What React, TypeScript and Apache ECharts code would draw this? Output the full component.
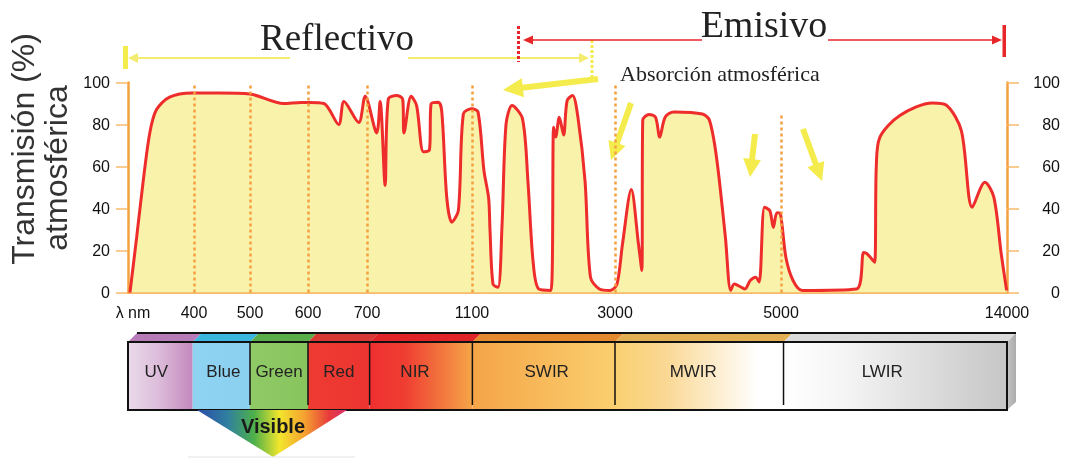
import React, { useEffect, useRef } from 'react';
import * as echarts from 'echarts';

// Non-linear wavelength axis: tick wavelengths and their relative positions on the axis
const TICK_NM = [300, 400, 500, 600, 700, 1100, 3000, 5000, 14000];
const TICK_POS = [0, 66, 122, 180, 239, 344, 487, 653, 879];
const TICK_LABELS = ['λ nm', '400', '500', '600', '700', '1100', '3000', '5000', '14000'];
const AXIS_MAX = 879;

// Dotted reference lines
const DOTTED_NM = [400, 500, 600, 700, 1100, 3000, 5000];
const DOTTED_TOP = [100, 100, 100, 100, 100, 100, 85];

// Atmospheric transmission curve
const WAVELENGTH_NM = [
  303, 313, 323, 333, 343, 363, 397, 445, 500, 558, 588, 602, 627, 652, 661, 686, 697,
  737, 750, 769, 781, 813, 836, 841, 868, 889, 915, 938, 944, 972, 985, 1004, 1023, 1048,
  1067, 1099, 1180, 1259, 1321, 1339, 1379, 1446, 1499, 1552, 1632, 1771, 1843, 1911, 1985,
  2150, 2184, 2212, 2260, 2317, 2364, 2436, 2507, 2602, 2674, 2792, 2934, 3024, 3090, 3196,
  3283, 3323, 3334, 3411, 3488, 3539, 3604, 3710, 4053, 4138, 4223, 4330, 4394, 4438, 4521,
  4566, 4629, 4694, 4737, 4801, 4865, 4908, 4951, 4993, 5194, 5480, 5844, 8003, 8293, 8431,
  8725, 8794, 8939, 9734, 11030, 11607, 12184, 12616, 13120, 13476, 13770, 13984,
];
const TRANSMISSION = [
  0, 26, 53, 76, 87, 93, 95, 95, 94.5, 90, 90.5, 90.5, 90, 80, 91, 81, 93.5,
  76, 91, 51, 92, 93.8, 92, 76, 93.4, 89, 67, 68, 89.8, 90.6, 86, 45, 33.5, 39,
  85, 87.5, 86, 58, 45, 30, 4, 2.5, 32, 80, 89, 82.7, 53, 15, 1.7,
  1, 78.7, 74, 83.5, 75, 91.4, 93.8, 83.5, 53, 7.3, 1.7, 1, 4, 23, 49,
  23, 10.5, 82, 84.8, 83.5, 74, 83.5, 86, 85, 82, 64.4, 26.3, 1, 4, 2.5,
  1.7, 5.7, 7.3, 5, 40.6, 39, 31, 38, 37.5, 16.8, 5.7, 1, 1.7, 19, 18.4,
  14.4, 59.7, 74, 84.3, 90.2, 89, 77, 40.6, 52.5, 45.4, 18.4, 1,
];

// Spectral bands
const BAND_LABELS = ['UV', 'Blue', 'Green', 'Red', 'NIR', 'SWIR', 'MWIR', 'LWIR'];
const BAND_EDGES_NM = [300, 398, 500, 600, 710, 1105, 3000, 5100, 14000];

function nmToPos(nm: number): number {
  for (let i = 0; i < TICK_NM.length - 1; i++) {
    if (nm <= TICK_NM[i + 1] || i === TICK_NM.length - 2) {
      const t = (nm - TICK_NM[i]) / (TICK_NM[i + 1] - TICK_NM[i]);
      return TICK_POS[i] + t * (TICK_POS[i + 1] - TICK_POS[i]);
    }
  }
  return 0;
}

const SANS = '"Liberation Sans", Arial, sans-serif';
const SERIF = '"Liberation Serif", "Times New Roman", serif';
const YELLOW = '#F4EC4C';
const RED = '#E8262A';
const AXIS_COLOR = '#F5A040';

function lg(stops: [number, string][]) {
  return new echarts.graphic.LinearGradient(0, 0, 1, 0, stops.map(([offset, color]) => ({ offset, color })));
}

function arrowEls(x1: number, y1: number, x2: number, y2: number, color: string, w: number, hl: number, hw: number) {
  const dx = x2 - x1, dy = y2 - y1;
  const L = Math.hypot(dx, dy);
  const ux = dx / L, uy = dy / L;
  const bx = x2 - ux * hl, by = y2 - uy * hl;
  return [
    { type: 'line', shape: { x1, y1, x2: bx + ux, y2: by + uy }, style: { stroke: color, lineWidth: w } },
    {
      type: 'polygon',
      shape: { points: [[x2, y2], [bx - uy * hw, by + ux * hw], [bx + uy * hw, by - ux * hw]] },
      style: { fill: color },
    },
  ];
}

function txt(text: string, x: number, y: number, font: string, fill: string, align = 'center', extra: any = {}) {
  return {
    type: 'text', x, y, ...extra,
    style: { text, font, fill, align, verticalAlign: 'middle', textAlign: align, textVerticalAlign: 'middle' },
  };
}

function buildGraphic(px: (nm: number) => number) {
  const els: any[] = [];
  // Y title
  els.push(txt('Transmisión (%)', 23, 149, `32px ${SANS}`, '#333', 'center', { rotation: Math.PI / 2 }));
  els.push(txt('atmosférica', 56, 168, `32px ${SANS}`, '#333', 'center', { rotation: Math.PI / 2 }));

  // Reflectivo annotation (yellow)
  els.push({ type: 'rect', shape: { x: 123, y: 46, width: 5, height: 23 }, style: { fill: YELLOW } });
  els.push(...arrowEls(290, 58, 128, 58, '#F3EC70', 2, 10, 5));
  els.push(...arrowEls(408, 58, 589, 58, '#F3EC70', 2, 10, 5));
  els.push({ type: 'line', shape: { x1: 592, y1: 40, x2: 592, y2: 82 }, style: { stroke: YELLOW, lineWidth: 3, lineDash: [3, 2] } });
  els.push(txt('Reflectivo', 337, 37, `37px ${SERIF}`, '#222'));

  // Emisivo annotation (red)
  els.push({ type: 'line', shape: { x1: 518.5, y1: 26, x2: 518.5, y2: 62 }, style: { stroke: RED, lineWidth: 3, lineDash: [3, 2] } });
  els.push(...arrowEls(702, 40, 523, 40, RED, 1.5, 10, 4.5));
  els.push(...arrowEls(828, 40, 1002, 40, RED, 1.5, 10, 4.5));
  els.push({ type: 'rect', shape: { x: 1002.5, y: 25, width: 3.5, height: 32 }, style: { fill: RED } });
  els.push(txt('Emisivo', 764, 24, `38px ${SERIF}`, '#222'));

  // Absorption annotation
  els.push(txt('Absorción atmosférica', 620, 73, `22px ${SERIF}`, '#222', 'left'));
  els.push(...arrowEls(598, 79, 503, 90, YELLOW, 6, 20, 9.5));
  els.push(...arrowEls(631, 103, 611, 160, YELLOW, 6, 18, 9));
  els.push(...arrowEls(755, 134, 750, 177, YELLOW, 6, 18, 9));
  els.push(...arrowEls(803, 129, 822, 181, YELLOW, 6, 18, 9));

  // Spectral bar
  const e = BAND_EDGES_NM.map(px);
  const y0 = 342, y1 = 410, yT = 333, sk = 9;
  const fills: [number, string][][] = [
    [[0, '#E9DAE9'], [0.45, '#DDBEDB'], [1, '#C488BE']],
    [[0, '#8FD3F3'], [1, '#8CD0F0']],
    [[0, '#8FCA66'], [1, '#88C45E']],
    [[0, '#EE3B32'], [1, '#EC3430']],
    [[0, '#EE3030'], [0.35, '#EF3E32'], [1, '#F5A548']],
    [[0, '#F5A548'], [1, '#FACF6E']],
    [[0, '#F9D070'], [0.3, '#FAD894'], [0.85, '#FFFFFF'], [1, '#FFFFFF']],
    [[0, '#FFFFFF'], [0.25, '#F6F6F6'], [1, '#C6C6C6']],
  ];
  const slab = ['#B77BB7', '#3AB7DF', '#5AAE4A', '#D83834', '#E02428', '#E5892F', '#E2B052', '#DADADA'];
  const shift = [-4, 2, 0, 0, -6, 3, -6, -13];
  for (let i = 0; i < BAND_LABELS.length; i++) {
    els.push({ type: 'rect', shape: { x: e[i], y: y0, width: e[i + 1] - e[i], height: y1 - y0 }, style: { fill: lg(fills[i]) } });
    els.push({
      type: 'polygon',
      shape: { points: [[e[i], y0], [e[i + 1], y0], [e[i + 1] + sk, yT], [e[i] + sk, yT]] },
      style: { fill: slab[i] },
    });
  }
  // right face
  els.push({
    type: 'polygon',
    shape: { points: [[e[8], y0], [e[8] + sk, yT], [e[8] + sk, 402], [e[8], y1]] },
    style: { fill: lg([[0, '#C4C4C4'], [1, '#ABABAB']]) },
  });
  els.push({ type: 'line', shape: { x1: e[0] + sk, y1: yT, x2: e[8] + sk, y2: yT }, style: { stroke: '#111', lineWidth: 2 } });
  for (let i = 2; i < 8; i++) {
    els.push({ type: 'line', shape: { x1: e[i], y1: y0, x2: e[i], y2: 405 }, style: { stroke: '#111', lineWidth: 1.5 } });
  }
  els.push({ type: 'rect', shape: { x: e[0], y: y0, width: e[8] - e[0], height: y1 - y0 }, style: { fill: 'none', stroke: '#111', lineWidth: 2 } });
  for (let i = 0; i < BAND_LABELS.length; i++) {
    els.push(txt(BAND_LABELS[i], (e[i] + e[i + 1]) / 2 + shift[i], 371, `17px ${SANS}`, '#222'));
  }

  // Visible triangle
  els.push({
    type: 'polygon',
    shape: { points: [[197, 410], [347, 410], [273, 457]] },
    style: {
      fill: lg([
        [0, '#2C4CA8'], [0.2, '#2F7FA0'], [0.38, '#4DB04A'], [0.55, '#F2E62C'],
        [0.72, '#F5A030'], [0.88, '#E83A3C'], [1, '#D8306A'],
      ]),
    },
  });
  els.push({ type: 'line', shape: { x1: 188, y1: 457, x2: 355, y2: 457 }, style: { stroke: '#E2E2E2', lineWidth: 1 } });
  els.push(txt('Visible', 273, 426, `bold 20px ${SANS}`, '#1A1A1A'));
  return els;
}

export default function App() {
  const ref = useRef<HTMLDivElement>(null);
  useEffect(() => {
    const chart = echarts.init(ref.current!, null, { renderer: 'svg' });
    const yAxisBase = (pos: 'left' | 'right') => ({
      type: 'value', position: pos, min: 0, max: 100, interval: 20,
      axisLine: { show: true, onZero: false, lineStyle: { color: AXIS_COLOR, width: 2.5 } },
      axisTick: { show: true, length: 12, lineStyle: { color: '#F8B86A', width: 1.5 } },
      axisLabel: { color: '#111', fontSize: 16, fontFamily: SANS, margin: pos === 'left' ? 18 : 53, align: 'right' },
      splitLine: { show: false },
    });
    chart.setOption({
      animation: false,
      grid: { left: 128, right: 59, top: 82.5, bottom: 166.5 },
      xAxis: {
        type: 'value', min: 0, max: AXIS_MAX,
        axisLine: { show: true, onZero: false, lineStyle: { color: AXIS_COLOR, width: 2.5 } },
        axisTick: { show: false },
        splitLine: { show: false },
        axisLabel: {
          customValues: TICK_POS,
          color: '#111', fontSize: 16, fontFamily: SANS, margin: 12,
          formatter: (v: number) => {
            const i = TICK_POS.indexOf(v);
            if (i < 0) return '';
            return i === 0 ? '{l|' + TICK_LABELS[0] + '}' : TICK_LABELS[i];
          },
          rich: { l: { padding: [0, 0, 0, 10], fontSize: 16, color: '#111', fontFamily: SANS } },
        },
      },
      yAxis: [yAxisBase('left'), yAxisBase('right')],
      series: [
        {
          type: 'line',
          data: WAVELENGTH_NM.map((nm, i) => [nmToPos(nm), TRANSMISSION[i]]),
          symbol: 'none',
          smooth: 0.3,
          lineStyle: { color: '#EE2C2C', width: 3 },
          itemStyle: { color: '#EE2C2C' },
          areaStyle: { color: '#F8F2AA', opacity: 1 },
          markLine: {
            silent: true,
            symbol: 'none',
            label: { show: false },
            lineStyle: { color: AXIS_COLOR, type: [3, 3], width: 2.5 },
            data: DOTTED_NM.map((nm, i) => [
              { coord: [nmToPos(nm), 0] },
              { coord: [nmToPos(nm), DOTTED_TOP[i]] },
            ]),
          },
        },
      ],
    });
    const px = (nm: number) => chart.convertToPixel({ xAxisIndex: 0 } as any, nmToPos(nm)) as number;
    chart.setOption({ graphic: { elements: buildGraphic(px) } });
    return () => chart.dispose();
  }, []);
  return <div ref={ref} style={{ position: 'fixed', left: 0, top: 0, width: 1066, height: 459 }} />;
}
